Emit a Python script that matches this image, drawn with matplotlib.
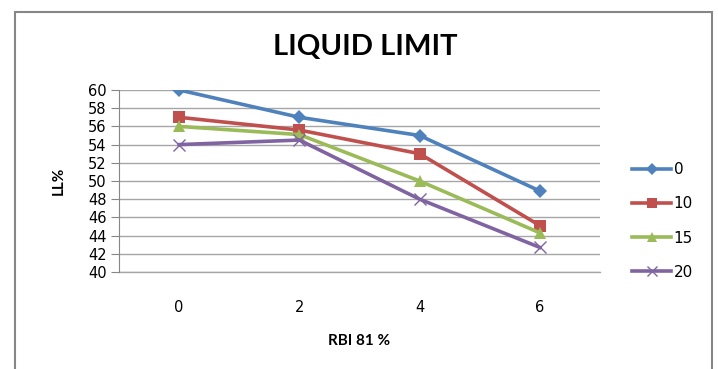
import numpy as np
import matplotlib
matplotlib.use('Agg')
import matplotlib.pyplot as plt
from matplotlib.patches import Rectangle

x_labels = ['0', '2', '4', '6']
series_names = ['0', '10', '15', '20']
ll_0 = [60, 57, 55, 48.9]
ll_10 = [57, 55.6, 53, 45.1]
ll_15 = [56, 55.1, 50, 44.3]
ll_20 = [54, 54.5, 48, 42.7]

colors = ['#4F81BD', '#C0504D', '#9BBB59', '#8064A2']
markers = ['D', 's', '^', 'x']
msizes = [7.5, 9, 8.5, 9]

fig = plt.figure(figsize=(7.18, 3.69), dpi=100)
ax = fig.add_axes([119 / 718, 1 - 272 / 369, 481 / 718, 182 / 369])

xs = np.arange(len(x_labels))
for vals, name, c, m, ms in zip([ll_0, ll_10, ll_15, ll_20], series_names, colors, markers, msizes):
    ax.plot(xs, vals, color=c, lw=2.6, marker=m, ms=ms, mew=1.0 if m == 'x' else 0,
            label=name, zorder=3)

ax.set_xlim(-0.5, 3.5)
ax.set_ylim(40, 60)
ax.set_yticks(range(40, 61, 2))
ax.set_xticks(xs)
ax.set_xticklabels(x_labels)
ax.grid(axis='y', color='#A6A6A6', lw=1)
ax.axhline(40, color='#A6A6A6', lw=1, clip_on=False, zorder=1)
ax.set_axisbelow(True)
for s in ['top', 'right', 'bottom']:
    ax.spines[s].set_visible(False)
ax.spines['left'].set_color('#868686')
ax.tick_params(axis='y', length=6, color='#868686', labelsize=10.5, pad=3)
ax.tick_params(axis='x', length=0, labelsize=10.5, pad=20)

ax.set_ylabel('LL%', fontsize=11, fontweight='bold', family='Lato', labelpad=16)
ax.set_xlabel('RBI 81 %', fontsize=11, fontweight='bold', family='Lato', labelpad=14)
fig.text(365 / 718, 1 - 47 / 369, 'LIQUID LIMIT', ha='center', va='center',
         fontsize=21, fontweight='bold', family='Lato')

ax.legend(loc='center left', bbox_to_anchor=(618 / 718, 1 - 221 / 369),
          bbox_transform=fig.transFigure, frameon=False, fontsize=11,
          handlelength=2.6, labelspacing=1.25, handletextpad=0.15, markerscale=0.85)

fig.patches.append(Rectangle((15 / 718, -0.05), 697 / 718, 1 - 12 / 369 + 0.05,
                             transform=fig.transFigure, fill=False,
                             edgecolor='#868686', lw=1.5))

fig.savefig('out.png', dpi=100)
